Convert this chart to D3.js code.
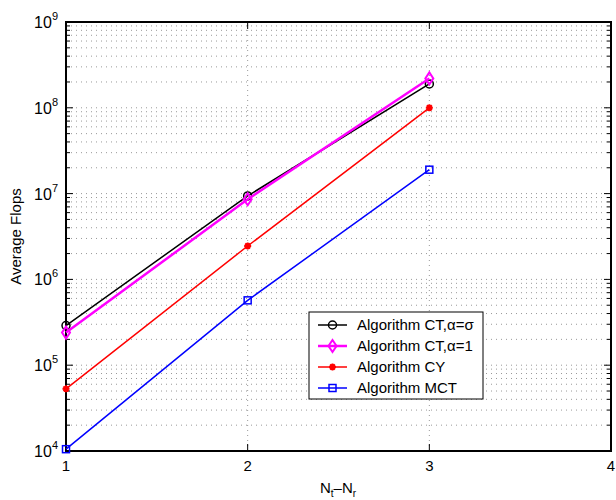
<!DOCTYPE html>
<html>
<head>
<meta charset="utf-8" />
<title>flops</title>
<script src="https://cdn.jsdelivr.net/npm/d3@7"></script>
<style>
  body { margin: 0; background: #fff; }
  text { font-family: "Liberation Sans", Arial, sans-serif; fill: #000; }
</style>
</head>
<body>
<svg width="616" height="500"></svg>
<script>
var xs = [1, 2, 3];
var seriesNames = ["Algorithm CT,\u03b1=\u03c3", "Algorithm CT,\u03b1=1", "Algorithm CY", "Algorithm MCT"];
var ctSigma = [2.9e5, 9.4e6, 1.9e8];
var ctOne = [2.4e5, 8.6e6, 2.2e8];
var cy = [5.3e4, 2.45e6, 1.0e8];
var mct = [1.05e4, 5.7e5, 1.9e7];
var xTicks = [1, 2, 3, 4];
var yExps = [4, 5, 6, 7, 8, 9];

var svg = d3.select("svg");
var margin = {top: 22, left: 66, right: 5, bottom: 49};
var W = 616, H = 500;
var x = d3.scaleLinear().domain([1, 4]).range([margin.left, W - margin.right]);
var y = d3.scaleLog().domain([1e4, 1e9]).range([H - margin.bottom, margin.top]);
var x0 = x.range()[0], x1 = x.range()[1], y0 = y.range()[0], y1 = y.range()[1];

// grid
var g = svg.append("g");
var minors = [];
for (var e = 4; e < 9; e++) for (var m = 1; m <= 9; m++) if (!(m == 1 && e == 4)) minors.push(m * Math.pow(10, e));
minors.push(1e9);
g.selectAll(".hg").data(minors).enter().append("line")
  .attr("x1", x0).attr("x2", x1).attr("y1", d => y(d)).attr("y2", d => y(d))
  .attr("stroke", "#999").attr("stroke-width", 1).attr("stroke-dasharray", "1,4");
g.selectAll(".vg").data(xTicks.slice(1, 3)).enter().append("line")
  .attr("x1", d => x(d)).attr("x2", d => x(d)).attr("y1", y0).attr("y2", y1)
  .attr("stroke", "#999").attr("stroke-width", 1).attr("stroke-dasharray", "1,4");

// tick marks
var ax = svg.append("g").attr("stroke", "#000").attr("stroke-width", 1);
minors.forEach(function (v) {
  var major = Math.abs(Math.log10(v) - Math.round(Math.log10(v))) < 1e-9;
  var len = major ? 7 : 4;
  ax.append("line").attr("x1", x0).attr("x2", x0 + len).attr("y1", y(v)).attr("y2", y(v));
  ax.append("line").attr("x1", x1).attr("x2", x1 - len).attr("y1", y(v)).attr("y2", y(v));
});
xTicks.forEach(function (v) {
  ax.append("line").attr("x1", x(v)).attr("x2", x(v)).attr("y1", y0).attr("y2", y0 - 7);
  ax.append("line").attr("x1", x(v)).attr("x2", x(v)).attr("y1", y1).attr("y2", y1 + 7);
});
svg.append("rect").attr("x", x0).attr("y", y1).attr("width", x1 - x0).attr("height", y0 - y1)
  .attr("fill", "none").attr("stroke", "#000").attr("stroke-width", 2);

// tick labels
svg.selectAll(".xl").data(xTicks).enter().append("text")
  .attr("x", d => x(d)).attr("y", y0 + 20).attr("text-anchor", "middle")
  .attr("font-size", 15).text(d => d);
var yl = svg.selectAll(".yl").data(yExps).enter().append("text")
  .attr("x", x0 - 8).attr("y", d => y(Math.pow(10, d)) + 6).attr("text-anchor", "end")
  .attr("font-size", 16);
yl.append("tspan").text("10");
yl.append("tspan").attr("dy", -8).attr("font-size", 11).text(d => d);

// axis titles
svg.append("text").attr("x", 338).attr("y", 493).attr("text-anchor", "middle").attr("font-size", 15)
  .html('N<tspan font-size="10" dy="4">t</tspan><tspan dy="-4">\u2013N</tspan><tspan font-size="10" dy="4">r</tspan>');
svg.append("text").attr("transform", "translate(21," + ((y0 + y1) / 2) + ") rotate(-90)")
  .attr("text-anchor", "middle").attr("font-size", 15).text("Average Flops");

// series
var series = [
  {name: seriesNames[0], vals: ctSigma, color: "#000", marker: "circle", w: 1.5},
  {name: seriesNames[1], vals: ctOne, color: "#ff00ff", marker: "diamond", w: 2.5},
  {name: seriesNames[2], vals: cy, color: "#ff0000", marker: "star", w: 1.5},
  {name: seriesNames[3], vals: mct, color: "#0000ff", marker: "square", w: 1.5}
];
var line = d3.line().x(d => x(d[0])).y(d => y(d[1]));

function drawMarker(sel, s, px, py) {
  if (s.marker == "circle") {
    sel.append("circle").attr("cx", px).attr("cy", py).attr("r", 4)
      .attr("fill", "none").attr("stroke", s.color).attr("stroke-width", 1.5);
  } else if (s.marker == "diamond") {
    sel.append("path").attr("d", "M" + px + "," + (py - 6) + "L" + (px + 4) + "," + py + "L" + px + "," + (py + 6) + "L" + (px - 4) + "," + py + "Z")
      .attr("fill", "none").attr("stroke", s.color).attr("stroke-width", 2);
  } else if (s.marker == "star") {
    var r = 3.5, d = "";
    for (var k = 0; k < 4; k++) {
      var a = k * Math.PI / 4;
      d += "M" + (px - r * Math.cos(a)) + "," + (py - r * Math.sin(a)) + "L" + (px + r * Math.cos(a)) + "," + (py + r * Math.sin(a));
    }
    sel.append("path").attr("d", d).attr("stroke", s.color).attr("stroke-width", 2);
    sel.append("circle").attr("cx", px).attr("cy", py).attr("r", 2.5).attr("fill", s.color);
  } else {
    sel.append("rect").attr("x", px - 3.5).attr("y", py - 3.5).attr("width", 7).attr("height", 7)
      .attr("fill", "none").attr("stroke", s.color).attr("stroke-width", 1.5);
  }
}

series.forEach(function (s) {
  var pts = xs.map((v, i) => [v, s.vals[i]]);
  svg.append("path").attr("d", line(pts)).attr("fill", "none").attr("stroke", s.color).attr("stroke-width", s.w);
  var mg = svg.append("g");
  pts.forEach(p => drawMarker(mg, s, x(p[0]), y(p[1])));
});

// legend
var lg = svg.append("g");
lg.append("rect").attr("x", 309).attr("y", 312).attr("width", 174).attr("height", 87)
  .attr("fill", "#fff").attr("stroke", "#000").attr("stroke-width", 1);
series.forEach(function (s, i) {
  var ly = 325 + i * 21;
  lg.append("line").attr("x1", 318).attr("x2", 347).attr("y1", ly).attr("y2", ly)
    .attr("stroke", s.color).attr("stroke-width", s.w);
  drawMarker(lg, s, 332.5, ly);
  lg.append("text").attr("x", 357).attr("y", ly + 5).attr("font-size", 15).text(s.name);
});
</script>
</body>
</html>
